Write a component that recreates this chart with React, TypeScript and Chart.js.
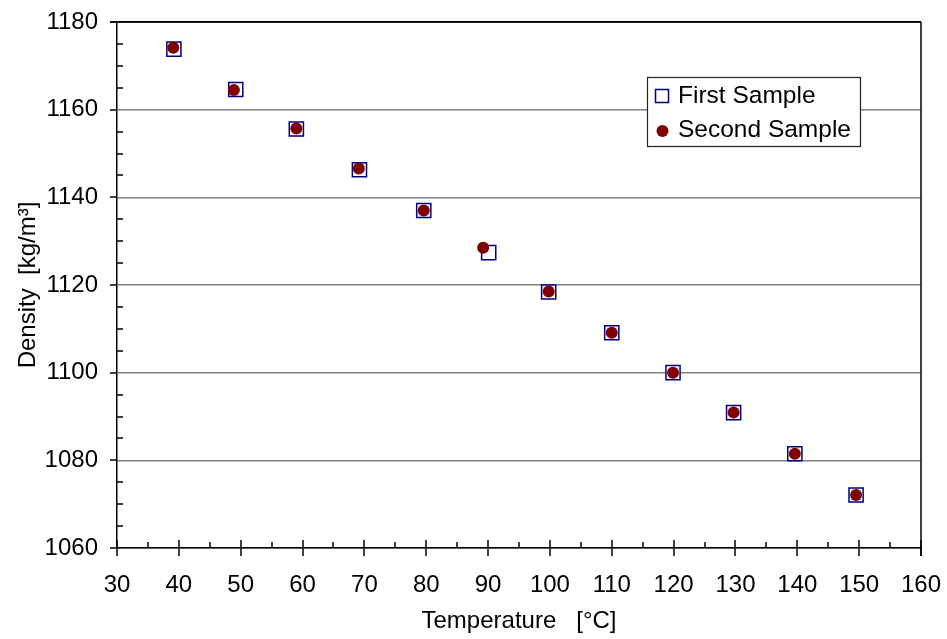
import { useEffect, useRef } from "react";
import { Chart, registerables } from "chart.js";

Chart.register(...registerables);

// Measured densities of the two samples
const firstTemps = [39.2, 49.2, 59.0, 69.2, 79.6, 90.1, 99.8, 110.0, 119.9, 129.7, 139.6, 149.5];
const firstDensity = [1173.8, 1164.6, 1155.6, 1146.3, 1137.0, 1127.4, 1118.4, 1109.1, 1100.0, 1090.9, 1081.5, 1072.1];
const secondTemps = [39.1, 48.9, 59.0, 69.1, 79.6, 89.2, 99.8, 110.0, 119.9, 129.7, 139.6, 149.5];
const secondDensity = [1174.1, 1164.5, 1155.7, 1146.6, 1137.0, 1128.5, 1118.5, 1109.1, 1100.0, 1090.9, 1081.5, 1072.1];

const seriesNames = ["First Sample", "Second Sample"];
const xRange = [30, 160];
const yRange = [1060, 1180];
const xTitle = "Temperature   [°C]";
const yTitle = "Density  [kg/m³]";

const FONT = "Arial, 'Liberation Sans', sans-serif";
const SQUARE_COLOR = "#000080";
const CIRCLE_COLOR = "#800000";

function line(ctx: CanvasRenderingContext2D, x1: number, y1: number, x2: number, y2: number) {
  ctx.beginPath();
  ctx.moveTo(x1, y1);
  ctx.lineTo(x2, y2);
  ctx.stroke();
}

// Tick marks (major outside, minor inside), top/right frame lines, legend box
const framePlugin = {
  id: "frame",
  beforeDatasetsDraw(chart: any) {
    const { ctx, chartArea } = chart;
    const { left, right, top, bottom } = chartArea;
    const xs = chart.scales.x;
    const ys = chart.scales.y;
    ctx.save();
    ctx.strokeStyle = "#000";
    ctx.lineWidth = 1.5;
    for (let v = yRange[0]; v <= yRange[1]; v += 5) {
      const py = Math.round(ys.getPixelForValue(v));
      if (v % 20 === 0) line(ctx, left - 7, py, left, py);
      else line(ctx, left, py, left + 6, py);
    }
    for (let v = xRange[0]; v <= xRange[1]; v += 5) {
      const px = Math.round(xs.getPixelForValue(v));
      if (v % 10 === 0) line(ctx, px, bottom - 8, px, bottom + 8);
      else line(ctx, px, bottom - 6, px, bottom);
    }
    line(ctx, left - 7, top, right, top);
    line(ctx, right, top, right, bottom + 8);
    ctx.restore();
  },
  afterDraw(chart: any) {
    const { ctx } = chart;
    const bx = 647, by = 77, bw = 213, bh = 69;
    ctx.save();
    ctx.fillStyle = "#fff";
    ctx.fillRect(bx, by, bw, bh);
    ctx.strokeStyle = "#222";
    ctx.lineWidth = 1.2;
    ctx.strokeRect(bx + 0.5, by + 0.5, bw, bh);
    const rows = [by + 19, by + 53];
    ctx.strokeStyle = SQUARE_COLOR;
    ctx.lineWidth = 1.5;
    ctx.strokeRect(655.5, rows[0] - 6.5, 13, 13);
    ctx.fillStyle = CIRCLE_COLOR;
    ctx.beginPath();
    ctx.arc(662.5, rows[1] + 1, 6, 0, Math.PI * 2);
    ctx.fill();
    ctx.fillStyle = "#000";
    ctx.font = `24.5px ${FONT}`;
    ctx.textBaseline = "middle";
    ctx.textAlign = "left";
    ctx.fillText(seriesNames[0], 678, rows[0]);
    ctx.fillText(seriesNames[1], 678, rows[1]);
    ctx.restore();
  },
};

export default function App() {
  const canvasRef = useRef<HTMLCanvasElement | null>(null);

  useEffect(() => {
    const canvas = canvasRef.current;
    if (!canvas) return;
    const chart = new Chart(canvas, {
      type: "scatter",
      data: {
        datasets: [
          {
            label: seriesNames[0],
            data: firstTemps.map((t, i) => ({ x: t, y: firstDensity[i] })),
            pointStyle: "rect",
            pointRadius: 10,
            borderColor: SQUARE_COLOR,
            backgroundColor: "#fff",
            borderWidth: 1.5,
            order: 1,
          },
          {
            label: seriesNames[1],
            data: secondTemps.map((t, i) => ({ x: t, y: secondDensity[i] })),
            pointStyle: "circle",
            pointRadius: 6,
            borderColor: CIRCLE_COLOR,
            backgroundColor: CIRCLE_COLOR,
            borderWidth: 0,
            order: 0,
          },
        ],
      },
      options: {
        animation: false,
        responsive: false,
        events: [],
        layout: { padding: { top: 22, right: 26, left: 0, bottom: 0 } },
        plugins: {
          legend: { display: false },
          tooltip: { enabled: false },
        },
        scales: {
          x: {
            type: "linear",
            min: xRange[0],
            max: xRange[1],
            ticks: {
              stepSize: 10,
              color: "#000",
              padding: 23,
              font: { family: FONT, size: 24 },
              callback: (v: any) => String(v),
            },
            grid: { display: false, drawTicks: false },
            border: { display: true, color: "#000", width: 1.5 },
            title: {
              display: true,
              text: xTitle,
              color: "#000",
              font: { family: FONT, size: 24 },
              padding: { top: 0, bottom: 3 },
            },
            afterFit(scale: any) {
              scale.height = 91;
              scale.paddingLeft = 0;
              scale.paddingRight = 0;
            },
          },
          y: {
            type: "linear",
            min: yRange[0],
            max: yRange[1],
            ticks: {
              stepSize: 20,
              color: "#000",
              padding: 19,
              font: { family: FONT, size: 24 },
              callback: (v: any) => String(v),
            },
            grid: {
              drawTicks: false,
              lineWidth: 1.5,
              color: (c: any) => (c.tick && c.tick.value === yRange[1] ? "#000" : "#808080"),
            },
            border: { display: true, color: "#000", width: 1.5 },
            title: {
              display: true,
              text: yTitle,
              color: "#000",
              font: { family: FONT, size: 24 },
              padding: { top: 14, bottom: 0 },
            },
            afterFit(scale: any) {
              scale.width = 117;
              scale.paddingTop = 0;
              scale.paddingBottom = 0;
            },
          },
        },
      },
      plugins: [framePlugin],
    });
    return () => chart.destroy();
  }, []);

  return (
    <div style={{ position: "fixed", left: 0, top: 0, width: 947, height: 639, background: "#fff" }}>
      <canvas ref={canvasRef} width={947} height={639} style={{ width: 947, height: 639, display: "block" }} />
    </div>
  );
}
